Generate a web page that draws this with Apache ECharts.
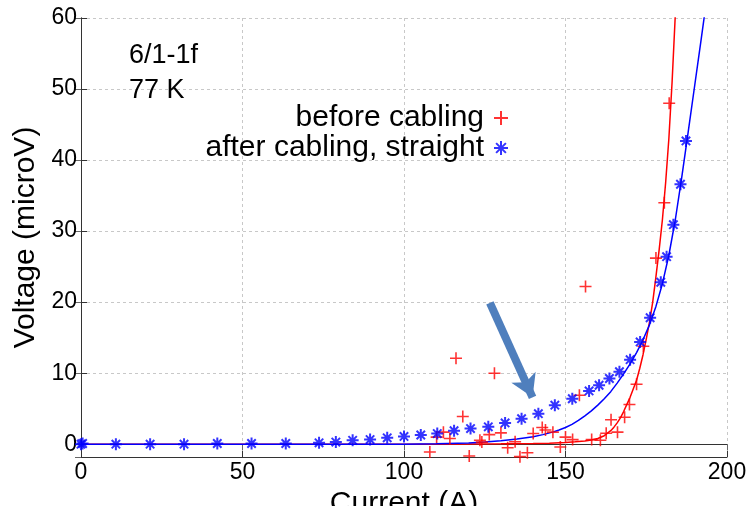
<!DOCTYPE html>
<html>
<head>
<meta charset="utf-8">
<title>6/1-1f 77 K</title>
<script src="https://cdn.jsdelivr.net/npm/echarts@6/dist/echarts.min.js"></script>
<style>
  html, body { margin: 0; padding: 0; background: #fff; }
  #chart { width: 747px; height: 506px; }
</style>
</head>
<body>
<div id="chart"></div>
<script>
// measured points: [current A, voltage microV]
const beforeCabling = [
  [108, -1.1], [110.1, 1.0], [112.2, 1.7], [114.2, 0.8], [116.1, 12.1], [118.2, 3.9],
  [120.2, -1.65], [123.5, 0.55], [124.1, 0.3], [126.4, 1.35], [128, 10.0], [130, 1.6],
  [132.1, -0.5], [134.4, 0.35], [135.9, -1.75], [138.2, -1.2], [140, 1.5], [142.8, 2.35],
  [143.8, 2.0], [146.1, 1.7], [148.4, -0.4], [150, 1.0], [152.2, 0.65], [154.3, 6.9],
  [156.2, 22.2], [158.1, 0.65], [160.8, 0.55], [162.6, 1.55], [164.1, 3.45], [166.1, 1.7],
  [168.3, 3.8], [169.8, 5.6], [172, 8.45], [174.1, 13.8], [178, 26.2], [180.6, 34.0],
  [182.1, 48.0]
];
const afterCabling = [
  [0, 0], [0.5, 0.1], [10.8, 0], [21.4, 0], [31.9, 0], [42.2, 0.1], [52.8, 0.1],
  [63.4, 0.1], [73.7, 0.2], [78.9, 0.3], [84.1, 0.55], [89.5, 0.65], [94.8, 0.9],
  [100, 1.1], [105.2, 1.3], [110.3, 1.5], [115.5, 1.9], [120.6, 2.2], [126.1, 2.45],
  [131.3, 3.0], [136.4, 3.6], [141.6, 4.3], [146.7, 5.5], [152.1, 6.4], [157.3, 7.5],
  [160.4, 8.3], [163.6, 9.25], [166.7, 10.2], [170, 11.9], [173.1, 14.4], [176.2, 17.8],
  [179.5, 22.8], [181.3, 26.4], [183.4, 30.9], [185.6, 36.6], [187.3, 42.7]
];
// fitted curves
const fitBefore = [
  [0, 0], [100, 0], [120, 0.02], [130, 0.05], [140, 0.1], [145, 0.15], [150, 0.25],
  [153, 0.33], [156, 0.45], [158, 0.6], [160, 0.8], [162, 1.2], [164, 1.9], [165, 2.4],
  [166, 3.0], [167, 3.7], [168, 4.6], [169, 5.6], [170, 6.6], [171, 7.8], [172, 9.0],
  [173, 10.7], [174, 12.6], [175, 14.8], [176, 17.2], [177, 20.0], [178, 23.6],
  [179, 27.4], [180, 31.6], [181, 36.8], [182, 43.0], [183, 51.0], [184, 60.5]
];
const fitAfter = [
  [0, 0], [100, 0], [110, 0.05], [120, 0.18], [125, 0.3], [130, 0.5], [135, 0.75],
  [140, 1.05], [143, 1.35], [146, 1.7], [148, 2.0], [150, 2.35], [152, 2.8], [154, 3.35],
  [156, 4.0], [158, 4.7], [160, 5.5], [162, 6.4], [164, 7.4], [166, 8.6], [168, 9.9],
  [170, 11.3], [172, 12.9], [174, 14.7], [176, 16.8], [178, 19.4], [180, 22.6],
  [182, 26.6], [184, 31.6], [186, 37.6], [188, 44.0], [190, 50.5], [192, 57.0], [193, 60.3]
];
// annotation arrow: start, tip
const arrowPts = [[126.6, 19.9], [139.8, 6.6]];

const xTicks = { min: 0, max: 200, interval: 50 };
const yRange = { min: -1.8, max: 60 };

const plusPath = 'path://M0,5L10,5M5,0L5,10';
const starPath = 'path://M0,5L10,5M5,0L5,10M1.5,1.5L8.5,8.5M8.5,1.5L1.5,8.5';
const font = '"Liberation Sans", Arial, Helvetica, sans-serif';

const chart = echarts.init(document.getElementById('chart'));

const frameAxis = {
  axisLine: { show: true, lineStyle: { color: '#333', width: 1 } },
  axisTick: { show: true, inside: true, length: 6, lineStyle: { color: '#666' } },
  axisLabel: { show: false },
  splitLine: { show: false }
};

const option = {
  backgroundColor: '#fff',
  animation: false,
  textStyle: { fontFamily: font },
  title: {
    text: '6/1-1f\n77 K',
    left: 129,
    top: 38,
    padding: 0,
    textStyle: { fontFamily: font, fontSize: 27, fontWeight: 'normal', color: '#000', lineHeight: 35 }
  },
  legend: {
    data: ['before cabling', 'after cabling, straight'],
    orient: 'vertical',
    align: 'right',
    right: 238,
    top: 103,
    padding: 0,
    itemGap: 0,
    itemWidth: 14,
    itemHeight: 14,
    textStyle: { fontFamily: font, fontSize: 30, color: '#000', lineHeight: 28, padding: [0, 5, 0, 0] }
  },
  grid: { left: 81, right: 20, top: 18, bottom: 49, outerBoundsMode: 'none', containLabel: false },
  xAxis: [
    {
      type: 'value',
      min: xTicks.min,
      max: xTicks.max,
      interval: xTicks.interval,
      name: 'Current (A)',
      nameLocation: 'middle',
      nameGap: 22,
      nameTextStyle: { fontFamily: font, fontSize: 30, color: '#000' },
      axisLine: { show: true, onZero: false, lineStyle: { color: '#333', width: 1 } },
      axisTick: { show: true, inside: true, length: 6, lineStyle: { color: '#333' } },
      axisLabel: { fontFamily: font, fontSize: 23, color: '#000', margin: 4 },
      splitLine: { show: true, lineStyle: { color: '#c8c8c8', type: [3, 3] } }
    },
    Object.assign({ type: 'value', position: 'top', min: xTicks.min, max: xTicks.max, interval: xTicks.interval }, frameAxis)
  ],
  yAxis: [
    {
      type: 'value',
      min: yRange.min,
      max: yRange.max,
      splitNumber: 6,
      name: 'Voltage (microV)',
      nameLocation: 'middle',
      nameGap: 37,
      nameTextStyle: { fontFamily: font, fontSize: 30, color: '#000' },
      axisLine: { show: true, onZero: false, lineStyle: { color: '#333', width: 1 } },
      axisTick: { show: true, inside: true, length: 6, lineStyle: { color: '#333' } },
      axisLabel: {
        fontFamily: font,
        fontSize: 23,
        color: '#000',
        margin: 4,
        formatter: function(v) {
          return Math.abs(v % 10) < 1e-6 ? String(v) : '';
        }
      },
      splitLine: { show: true, lineStyle: { color: '#c8c8c8', type: [3, 3] } }
    },
    Object.assign({ type: 'value', position: 'right', min: yRange.min, max: yRange.max, splitNumber: 6 }, frameAxis)
  ],
  series: [
    {
      name: 'fit before',
      type: 'line',
      data: fitBefore,
      showSymbol: false,
      lineStyle: { color: '#ff0000', width: 1.5 },
      z: 3
    },
    {
      name: 'fit after',
      type: 'line',
      data: fitAfter,
      showSymbol: false,
      lineStyle: { color: '#0000ff', width: 1.5 },
      z: 3,
      markLine: {
        silent: true,
        symbol: ['none', 'arrow'],
        symbolSize: [20, 22],
        label: { show: false },
        lineStyle: { color: '#4f7fbd', width: 8, type: 'solid' },
        data: [[{ coord: arrowPts[0] }, { coord: arrowPts[1] }]]
      }
    },
    {
      name: 'before cabling',
      type: 'scatter',
      data: beforeCabling,
      symbol: plusPath,
      symbolSize: 12,
      itemStyle: { color: 'rgba(0,0,0,0)', borderColor: '#ff0000', borderWidth: 1.6 },
      z: 4
    },
    {
      name: 'after cabling, straight',
      type: 'scatter',
      data: afterCabling,
      symbol: starPath,
      symbolSize: 12,
      itemStyle: { color: 'rgba(0,0,0,0)', borderColor: '#0000ff', borderWidth: 2 },
      z: 5
    }
  ]
};

chart.setOption(option);
</script>
</body>
</html>
